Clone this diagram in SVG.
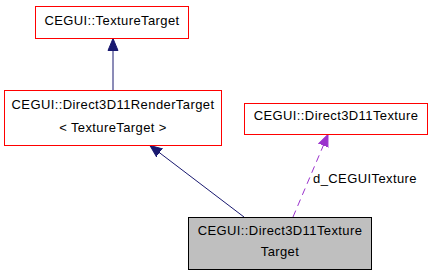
<svg xmlns="http://www.w3.org/2000/svg" width="432" height="277" viewBox="0 0 432 277">
  <style>
    .box { fill: #ffffff; stroke: #ff0000; stroke-width: 1; }
    .cur { fill: #bfbfbf; stroke: #000000; stroke-width: 1; }
    text { font-family: "Liberation Sans", Arial, Helvetica, sans-serif; font-size: 13px; letter-spacing: 0.4px; fill: #000000; text-anchor: middle; }
    .inh { stroke: #191970; stroke-width: 1; fill: none; }
    .use { stroke: #9a32cd; stroke-width: 1; fill: none; stroke-dasharray: 7,5; }
  </style>
  <defs>
    <marker id="ah-inh" viewBox="0 0 12 12" refX="12" refY="6" markerWidth="12" markerHeight="12" markerUnits="userSpaceOnUse" orient="auto">
      <path d="M0,1 L12,6 L0,11 Z" fill="#191970" stroke="#191970"/>
    </marker>
    <marker id="ah-use" viewBox="0 0 12 12" refX="12" refY="6" markerWidth="12" markerHeight="12" markerUnits="userSpaceOnUse" orient="auto">
      <path d="M0,1 L12,6 L0,11 Z" fill="#9a32cd" stroke="#9a32cd"/>
    </marker>
  </defs>
  <rect width="432" height="277" fill="#ffffff"/>

  <g id="edges">
    <line class="inh" x1="113" y1="90" x2="113" y2="38.5" marker-end="url(#ah-inh)"/>
    <line class="inh" x1="244" y1="217" x2="150" y2="145.5" marker-end="url(#ah-inh)"/>
    <line class="use" x1="293" y1="217" x2="328" y2="134.5" marker-end="url(#ah-use)"/>
    <text x="365" y="182.5">d_CEGUITexture</text>
  </g>

  <g id="node-texturetarget">
    <rect class="box" x="35.5" y="6.5" width="153" height="32"/>
    <text x="112" y="24.5">CEGUI::TextureTarget</text>
  </g>

  <g id="node-rendertarget">
    <rect class="box" x="4.5" y="90.5" width="217" height="55"/>
    <text x="113" y="108.5">CEGUI::Direct3D11RenderTarget</text>
    <text x="113" y="131.5">&lt; TextureTarget &gt;</text>
  </g>

  <g id="node-texture">
    <rect class="box" x="244.5" y="103.5" width="183" height="31"/>
    <text x="336" y="119.5">CEGUI::Direct3D11Texture</text>
  </g>

  <g id="node-texturetarget-d3d11">
    <rect class="cur" x="188.5" y="217.5" width="183" height="52"/>
    <text x="280" y="234.5">CEGUI::Direct3D11Texture</text>
    <text x="280" y="256">Target</text>
  </g>
</svg>
